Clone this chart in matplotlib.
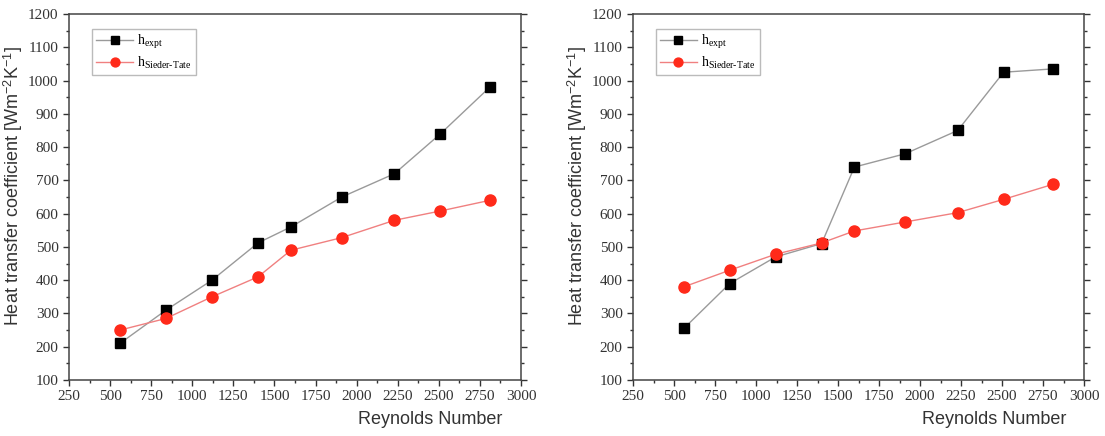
import matplotlib
matplotlib.use("Agg")
import matplotlib.pyplot as plt
from matplotlib.ticker import MultipleLocator

plt.rcParams["mathtext.fontset"] = "custom"
plt.rcParams["mathtext.rm"] = "Liberation Serif"
plt.rcParams["mathtext.it"] = "Liberation Serif:italic"
plt.rcParams["mathtext.sf"] = "Liberation Sans"

reynolds = [560, 840, 1120, 1400, 1600, 1910, 2230, 2510, 2810]
left_expt = [210, 310, 400, 512, 560, 650, 720, 840, 980]
left_st = [250, 285, 350, 410, 490, 528, 580, 608, 640]
right_expt = [255, 390, 470, 510, 740, 780, 850, 1025, 1035]
right_st = [380, 430, 478, 512, 548, 575, 603, 643, 688]

xticks = list(range(250, 3001, 250))
yticks = list(range(100, 1201, 100))

fig = plt.figure(figsize=(11.05, 4.36), dpi=100)
W, H = 1105, 436
boxes = [(69, 14, 521, 380), (633, 14, 1084, 380)]
datasets = [(left_expt, left_st), (right_expt, right_st)]

serif = "Liberation Serif"
sans = "Liberation Sans"

for (x0, y0, x1, y1), (expt, st) in zip(boxes, datasets):
    ax = fig.add_axes([x0 / W, 1 - y1 / H, (x1 - x0) / W, (y1 - y0) / H])
    ax.plot(reynolds, expt, color="#9a9a9a", lw=1.0, marker="s", ms=7.5,
            mfc="black", mec="black", label=r"h$_{\mathrm{expt}}$")
    ax.plot(reynolds, st, color="#f08080", lw=1.0, marker="o", ms=8,
            mfc="#ff2a1a", mec="#ff2a1a", label=r"h$_{\mathrm{Sieder\text{-}Tate}}$")
    ax.set_xlim(250, 3000)
    ax.set_ylim(100, 1200)
    ax.set_xticks(xticks)
    ax.set_yticks(yticks)
    ax.xaxis.set_minor_locator(MultipleLocator(125))
    ax.yaxis.set_minor_locator(MultipleLocator(50))
    ax.tick_params(which="both", top=False, right=True, direction="out")
    ax.tick_params(which="major", length=4, width=1, color="#333333")
    ax.tick_params(which="minor", length=2.5, width=1, color="#333333")
    for lab in ax.get_xticklabels() + ax.get_yticklabels():
        lab.set_fontfamily(serif)
        lab.set_fontsize(11)
        lab.set_color("#333333")
    for sp in ax.spines.values():
        sp.set_color("#444444")
        sp.set_linewidth(1.1)
    ax.set_xlabel("Reynolds Number", fontfamily=sans, fontsize=13, color="#333333")
    ax.xaxis.set_label_coords(0.8, -0.085)
    ax.set_ylabel(r"Heat transfer coefficient [Wm$^{\mathsf{-2}}$K$^{\mathsf{-1}}$]",
                  fontfamily=sans, fontsize=13, color="#333333")
    ax.yaxis.set_label_coords(-0.098, 0.53)
    leg = ax.legend(loc="upper left", bbox_to_anchor=(0.05, 0.96), frameon=True,
                    fancybox=False, edgecolor="#aaaaaa",
                    prop={"family": serif, "size": 10}, handlelength=2.7,
                    handletextpad=0.3, borderpad=0.3, labelspacing=0.3,
                    borderaxespad=0.0, markerscale=0.8)
    leg.get_frame().set_linewidth(1.0)

fig.savefig("out.png", dpi=100)
